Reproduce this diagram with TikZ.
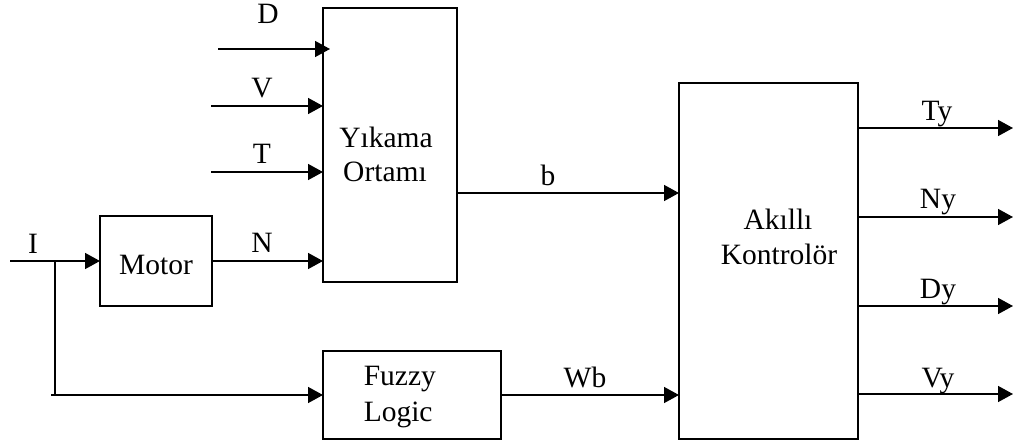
\documentclass[tikz,border=0pt]{standalone}
\usepackage{fontspec}
\setmainfont{Liberation Serif}
\usetikzlibrary{arrows.meta}
\begin{document}
\begin{tikzpicture}[x=1pt,y=-1pt,line width=1.5pt,
  blk/.style={draw,rectangle,inner sep=0pt,outer sep=0pt},
  arr/.style={-{Triangle[length=15pt,width=16pt]}},
  txt/.style={anchor=base,inner sep=0pt,font=\fontsize{29.5}{34}\selectfont}]
\useasboundingbox (0,0) rectangle (1015,444);
% blocks
\node[blk,minimum width=134pt,minimum height=274pt] (yik) at (390,145) {};
\node[blk,minimum width=112pt,minimum height=90pt] (motor) at (156,261) {};
\node[blk,minimum width=178pt,minimum height=88pt] (fuzzy) at (412,395) {};
\node[blk,minimum width=179pt,minimum height=356pt] (ak) at (768.5,261) {};
% block texts
\node[txt] (yikA) at (386,147) {Yıkama};
\node[txt] (yikB) at (385,181) {Ortamı};
\node[txt] (motT) at (156,274) {Motor};
\node[txt,anchor=base west] (fuzA) at (363,385) {Fuzzy};
\node[txt,anchor=base west] (fuzB) at (363,421) {Logic};
\node[txt] (akA) at (778,229) {Akıllı};
\node[txt] (akB) at (779,264) {Kontrolör};
% free ends
\coordinate (dIn) at (218,49);
\coordinate (vIn) at (211,106);
\coordinate (tIn) at (211,172);
\coordinate (iIn) at (10,261);
\coordinate (j) at (55,261);
\coordinate (jb) at (55,395);
\coordinate (jl) at (51,395);
\coordinate (bY) at (0,193);
\coordinate (tyOut) at (1013,128);
\coordinate (nyOut) at (1013,217);
\coordinate (dyOut) at (1013,306);
\coordinate (vyOut) at (1013,394);
% connectors
\draw[arr,shorten >=-7pt] (dIn) -- (yik.west |- dIn);
\draw[arr] (vIn) -- (yik.west |- vIn);
\draw[arr] (tIn) -- (yik.west |- tIn);
\draw[arr] (iIn) -- (motor.west);
\draw[arr] (motor.east) -- (yik.west |- motor.east);
\draw (j) -- (jb);
\draw[arr] (jl) -- (fuzzy.west);
\draw[arr] (yik.east |- bY) -- (ak.west |- bY);
\draw[arr] (fuzzy.east) -- (ak.west |- fuzzy.east);
\draw[arr] (ak.east |- tyOut) -- (tyOut);
\draw[arr] (ak.east |- nyOut) -- (nyOut);
\draw[arr] (ak.east |- dyOut) -- (dyOut);
\draw[arr] (ak.east |- vyOut) -- (vyOut);
% labels
\node[txt] (lD) at (268,24) {D};
\node[txt] (lV) at (262,97) {V};
\node[txt] (lT) at (262,163) {T};
\node[txt] (lN) at (262,252) {N};
\node[txt] (lI) at (33,253) {I};
\node[txt] (lb) at (548,185) {b};
\node[txt] (lWb) at (585,387) {Wb};
\node[txt] (lTy) at (937,120) {Ty};
\node[txt] (lNy) at (938,208) {Ny};
\node[txt] (lDy) at (938,298) {Dy};
\node[txt] (lVy) at (938,387) {Vy};
\end{tikzpicture}
\end{document}
